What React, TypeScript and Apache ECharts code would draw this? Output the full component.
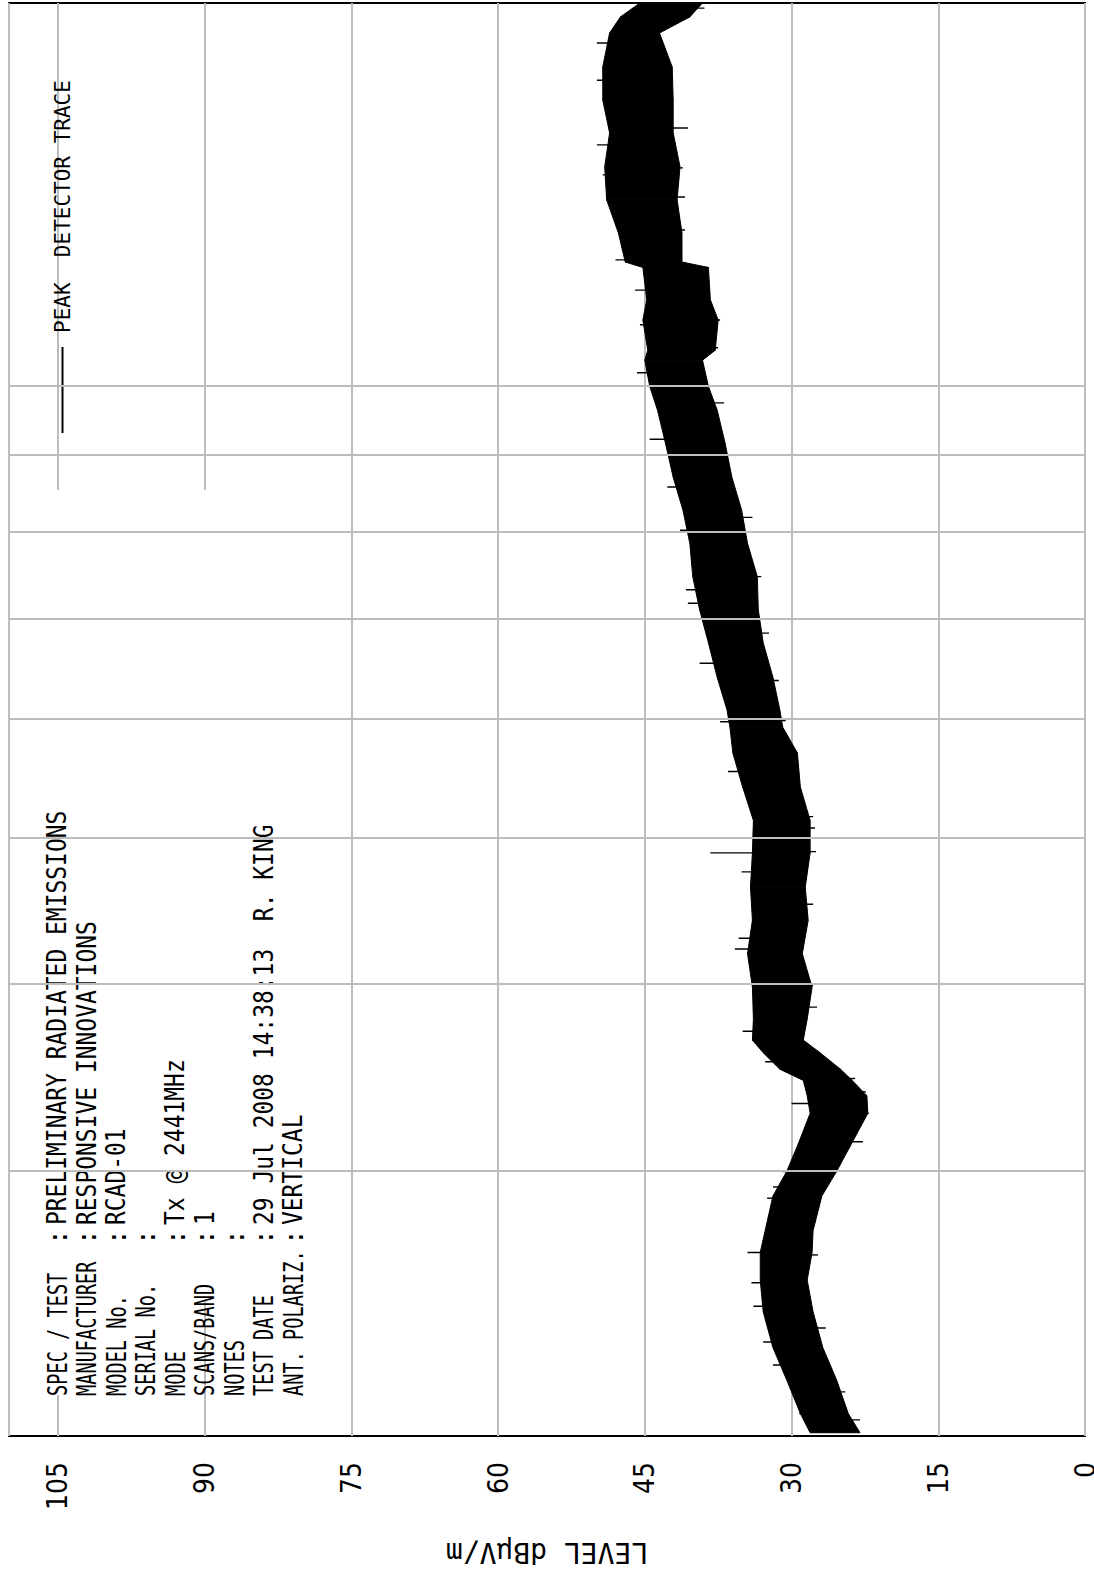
import React, { useEffect, useRef } from "react";
import * as echarts from "echarts";

// Page size (portrait); the plot itself is laid out landscape and turned a quarter turn.
const PAGE_W = 1094;
const PAGE_H = 1573;

// Peak detector sweep, 2 - 18 GHz: lower and upper edge of the trace body (dBµV/m)
const FREQ_GHZ = [
  2.01, 2.07, 2.18, 2.29, 2.42, 2.54, 2.65, 2.74, 2.89, 3.0,
  3.12, 3.28, 3.37, 3.45, 3.51, 3.6, 3.67, 3.79, 3.98, 4.19,
  4.41, 4.64, 4.89, 5.14, 5.41, 5.7, 5.93, 6.09, 6.4, 6.75,
  7.1, 7.47, 7.86, 8.27, 8.7, 9.17, 9.64, 10.0, 10.41, 10.57,
  11.07, 11.42, 12.0, 12.1, 12.65, 13.31, 14.0, 14.75, 15.51, 16.32,
  17.19, 17.62, 18.0,
];
const PEAK_HIGH = [
  28.1, 29.1, 30.5, 31.9, 32.9, 33.2, 33.2, 32.7, 31.9, 30.5,
  29.4, 28.1, 28.4, 28.8, 31.2, 32.9, 34.0, 33.9, 34.0, 34.5,
  34.0, 34.2, 34.0, 33.9, 35.0, 36.0, 36.3, 36.6, 37.6, 38.5,
  39.4, 40.1, 40.4, 41.1, 42.1, 42.9, 43.7, 44.5, 45.0, 44.7,
  45.2, 44.8, 45.2, 47.0, 47.7, 48.9, 49.1, 48.6, 49.3, 49.3,
  48.6, 47.5, 45.5,
];
const PEAK_LOW = [
  23.0, 24.2, 25.4, 26.8, 27.8, 28.4, 27.9, 27.8, 26.9, 25.4,
  24.0, 22.2, 22.3, 23.8, 25.0, 27.1, 28.8, 28.4, 27.9, 28.9,
  28.3, 28.6, 28.1, 28.1, 29.1, 29.4, 30.9, 31.2, 31.9, 32.9,
  33.4, 33.5, 34.5, 35.1, 36.1, 36.8, 37.6, 38.5, 39.1, 37.8,
  37.5, 38.3, 38.5, 41.2, 41.2, 41.7, 41.4, 42.1, 42.1, 42.2,
  43.5, 40.4, 39.1,
];

// Single-sweep excursions poking out of the trace body (GHz, dBµV/m)
const SPIKE_FREQ = [
  16.93, 15.99, 14.48, 13.83, 12.14, 11.59, 10.99, 10.21, 9.22, 8.57,
  8.02, 7.32, 7.17, 6.54, 5.98, 5.54, 4.89, 4.75, 4.29, 4.22,
  3.72, 3.55, 3.33, 3.0, 2.93, 2.88, 2.65, 2.53, 2.44, 2.31,
  2.23, 2.07,
  17.86, 14.86, 13.98, 13.37, 12.71, 11.07, 10.61, 9.75, 8.18, 7.47,
  6.85, 6.37, 5.99, 5.17, 5.08, 4.9, 4.52, 3.99, 3.86, 3.61,
  3.46, 3.39, 3.28, 3.14, 2.64, 2.36, 2.23, 2.14, 2.05,
];
const SPIKE_LEVEL = [
  49.9, 49.9, 49.9, 49.3, 48.0, 46.0, 45.5, 45.8, 44.5, 42.7,
  41.4, 40.8, 40.6, 39.4, 37.3, 36.5, 38.3, 35.1, 35.4, 35.8,
  35.0, 32.7, 30.0, 30.9, 31.9, 32.5, 34.5, 34.1, 33.9, 32.9,
  31.9, 29.2,
  38.9, 40.6, 41.1, 40.9, 40.9, 37.3, 37.5, 36.9, 34.0, 33.1,
  32.3, 31.3, 30.6, 27.8, 27.6, 27.5, 27.8, 27.8, 27.4, 27.3,
  23.5, 22.4, 22.1, 22.7, 27.3, 26.5, 26.2, 24.5, 23.0,
];

// Frequency grid (GHz) and level axis
const FREQ_GRID = [3, 4, 5, 6, 7, 8, 9, 10];
const LEVEL_MIN = 0;
const LEVEL_MAX = 110;
const LEVEL_STEP = 15;

const AXIS_NAME = "LEVEL dBµV/m";
const TRACE_NAME = "PEAK  DETECTOR TRACE";

const INFO_LABELS = [
  "SPEC / TEST",
  "MANUFACTURER",
  "MODEL No.",
  "SERIAL No.",
  "MODE",
  "SCANS/BAND",
  "NOTES",
  "TEST DATE",
  "ANT. POLARIZ.",
];
const INFO_VALUES = [
  "PRELIMINARY RADIATED EMISSIONS",
  "RESPONSIVE INNOVATIONS",
  "RCAD-01",
  "",
  "Tx @ 2441MHz",
  "1",
  "",
  "29 Jul 2008 14:38:13  R. KING",
  "VERTICAL",
];

const MONO = "'DejaVu Sans Mono', 'Liberation Mono', monospace";
const NARROW = "'DejaVu Sans Condensed', 'Liberation Sans Narrow', 'DejaVu Sans', sans-serif";
const GRID_GREY = "#bdbdbd";

// middle of the trace body at the sweep sample closest to f
function bodyMid(f: number): number {
  let best = 0;
  let dist = Infinity;
  FREQ_GHZ.forEach((g, i) => {
    const d = Math.abs(Math.log(g) - Math.log(f));
    if (d < dist) {
      dist = d;
      best = i;
    }
  });
  return (PEAK_LOW[best] + PEAK_HIGH[best]) / 2;
}

export default function App() {
  const ref = useRef<HTMLDivElement>(null);

  useEffect(() => {
    document.body.style.margin = "0";
    const el = ref.current;
    if (!el) return;
    const chart = echarts.init(el, null, { renderer: "svg" });

    // test information block, one row per field
    const infoText: any[] = [];
    INFO_LABELS.forEach((label, i) => {
      const y = 57 + 29.5 * i;
      infoText.push({
        type: "text",
        x: 177,
        y,
        z: 5,
        scaleX: 0.69,
        style: { text: label, fill: "#000", fontSize: 27, fontFamily: MONO, align: "left", verticalAlign: "middle" },
      });
      infoText.push({
        type: "text",
        x: 336,
        y,
        z: 5,
        style: { text: ":", fill: "#000", fontSize: 27, fontFamily: MONO, align: "center", verticalAlign: "middle" },
      });
      if (INFO_VALUES[i]) {
        infoText.push({
          type: "text",
          x: 348,
          y,
          z: 5,
          scaleX: 0.85,
          style: { text: INFO_VALUES[i], fill: "#000", fontSize: 27, fontFamily: MONO, align: "left", verticalAlign: "middle" },
        });
      }
    });

    const option: any = {
      animation: false,
      backgroundColor: "#fff",
      grid: {
        left: 137,
        right: 3,
        top: 9,
        bottom: 9,
        outerBoundsMode: "none",
        containLabel: false,
        show: true,
        borderColor: "#000",
        borderWidth: 2,
        backgroundColor: "transparent",
      },
      legend: {
        data: [{ name: TRACE_NAME, icon: "rect" }],
        left: 1140,
        top: 52,
        padding: 0,
        itemWidth: 86,
        itemHeight: 2,
        selectedMode: false,
        textStyle: { fontFamily: MONO, fontSize: 21, color: "#000", padding: [0, 0, 0, 9] },
      },
      xAxis: {
        type: "log",
        logBase: 10,
        min: 2,
        max: 18,
        axisLine: { show: false },
        axisTick: { show: false },
        axisLabel: { show: false },
        splitLine: { show: false },
      },
      yAxis: {
        type: "value",
        min: LEVEL_MIN,
        max: LEVEL_MAX,
        interval: LEVEL_STEP,
        name: AXIS_NAME,
        nameLocation: "middle",
        nameRotate: 90,
        nameGap: 102,
        nameTextStyle: { fontFamily: MONO, fontSize: 28, color: "#000" },
        axisLine: { show: false },
        axisTick: { show: false },
        axisLabel: {
          fontFamily: NARROW,
          fontSize: 28,
          lineHeight: 18,
          color: "#000",
          margin: 26,
          showMaxLabel: false,
        },
        splitLine: { lineStyle: { color: GRID_GREY, width: 2 } },
      },
      graphic: [
        // blank panel behind the test information block
        { type: "rect", z: 2, shape: { x: 273, y: 43, width: 810, height: 289 }, style: { fill: "#fff" } },
        { type: "rect", z: 2, shape: { x: 178, y: 43, width: 95, height: 152 }, style: { fill: "#fff" } },
        ...infoText,
      ],
      series: [
        {
          type: "line",
          name: "freq-grid",
          z: 1,
          data: [],
          showSymbol: false,
          silent: true,
          markLine: {
            silent: true,
            symbol: "none",
            label: { show: false },
            lineStyle: { color: GRID_GREY, width: 2, type: "solid" },
            data: FREQ_GRID.map((f) => ({ xAxis: f })),
          },
        },
        {
          type: "custom",
          name: TRACE_NAME,
          z: 3,
          itemStyle: { color: "#000" },
          data: FREQ_GHZ.map((f, i) => [f, PEAK_LOW[i], PEAK_HIGH[i]]),
          encode: { x: 0, y: [1, 2] },
          renderItem: (params: any, api: any) => {
            const i = params.dataIndex;
            if (i >= FREQ_GHZ.length - 1) return { type: "group", children: [] };
            const a = api.coord([FREQ_GHZ[i], PEAK_HIGH[i]]);
            const b = api.coord([FREQ_GHZ[i + 1], PEAK_HIGH[i + 1]]);
            const c = api.coord([FREQ_GHZ[i + 1], PEAK_LOW[i + 1]]);
            const d = api.coord([FREQ_GHZ[i], PEAK_LOW[i]]);
            return {
              type: "polygon",
              shape: { points: [a, b, c, d] },
              style: { fill: "#000", stroke: "#000", lineWidth: 1 },
            };
          },
        },
        {
          type: "custom",
          name: "excursions",
          z: 3,
          data: SPIKE_FREQ.map((f, i) => [f, SPIKE_LEVEL[i]]),
          encode: { x: 0, y: 1 },
          renderItem: (params: any, api: any) => {
            const f = api.value(0);
            const p0 = api.coord([f, bodyMid(f)]);
            const p1 = api.coord([f, api.value(1)]);
            return {
              type: "line",
              shape: { x1: p0[0], y1: p0[1], x2: p1[0], y2: p1[1] },
              style: { stroke: "#000", lineWidth: 1.4 },
            };
          },
        },
      ],
    };

    chart.setOption(option);
    return () => chart.dispose();
  }, []);

  return (
    <div style={{ position: "relative", width: PAGE_W, height: PAGE_H, overflow: "hidden", background: "#fff" }}>
      <div
        ref={ref}
        style={{
          position: "absolute",
          left: 0,
          top: 0,
          width: PAGE_H,
          height: PAGE_W,
          transformOrigin: "0 0",
          transform: `translate(0px, ${PAGE_H}px) rotate(-90deg)`,
        }}
      />
    </div>
  );
}
